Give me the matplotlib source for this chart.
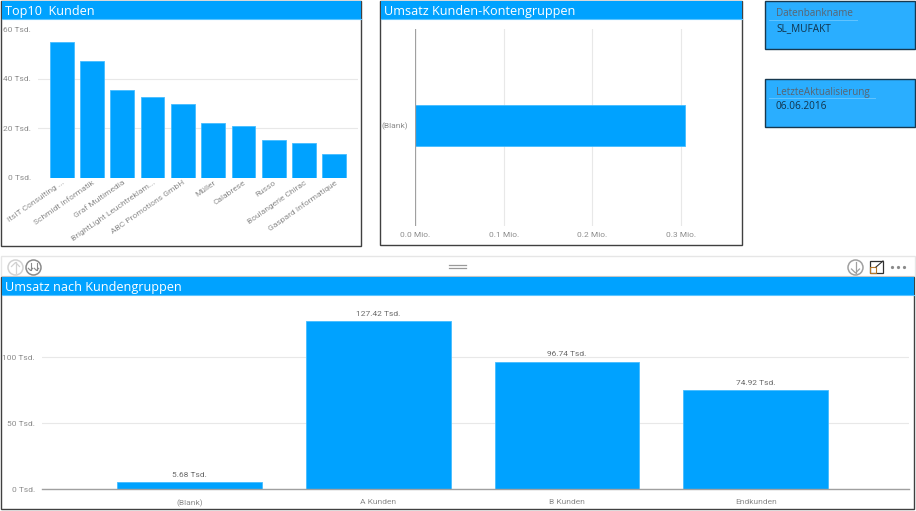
import matplotlib
matplotlib.use('Agg')
import matplotlib.pyplot as plt
from matplotlib.patches import Rectangle, Circle

W, H = 916, 511

# Top10 Kunden, values in Tsd.
top_names = ['ItsIT Consulting ...', 'Schmidt Informatik', 'Graf Multimedia',
             'BrightLight Leuchtreklam...', 'ABC Promotions GmbH', 'Müller',
             'Calabrese', 'Russo', 'Boulangerie Chirac', 'Gaspard Informatique']
top_values = [54.7, 47.3, 35.3, 32.7, 29.9, 22.0, 20.8, 15.2, 14.1, 9.7]
top_ticks = [0, 20, 40, 60]

# Umsatz Kunden-Kontengruppen, values in Mio.
konten_names = ['(Blank)']
konten_values = [0.3048]
konten_ticks = [0.0, 0.1, 0.2, 0.3]

# Umsatz nach Kundengruppen, values in Tsd.
gruppen_names = ['(Blank)', 'A Kunden', 'B Kunden', 'Endkunden']
gruppen_values = [5.68, 127.42, 96.74, 74.92]
gruppen_ticks = [0, 50, 100]

BLUE = '#00A2FF'
EDGE = '#45BCFF'
CARD = '#2AAEFF'
GRID = '#E8E8E8'
LABEL = '#8C8C8C'
TITLE_FONT = 'Open Sans'
TICK_FONT = 'Roboto'

plt.rcParams['font.family'] = TITLE_FONT
fig = plt.figure(figsize=(W / 100, H / 100), dpi=100, facecolor='white')

# background layer in pixel coordinates for panels and toolbar
bg = fig.add_axes([0, 0, 1, 1])
bg.set_xlim(0, W)
bg.set_ylim(H, 0)
bg.axis('off')


def panel(x0, y0, x1, y1, title, bar_h=18):
    bg.add_patch(Rectangle((x0, y0), x1 - x0, y1 - y0, fc='white', ec='#404040', lw=1.0))
    bg.add_patch(Rectangle((x0 + 0.5, y0 + 0.5), x1 - x0 - 1, bar_h, fc=BLUE, ec='none'))
    bg.plot([x0 + 0.5, x1 - 0.5], [y0 + bar_h + 0.5] * 2, color='#5CC5FF', lw=0.8)
    bg.text(x0 + 4, y0 + bar_h / 2 + 1.5, title, color='white', fontsize=9.1, va='center', ha='left')


def card(x0, y0, x1, y1, head, value, line_end):
    bg.add_patch(Rectangle((x0, y0), x1 - x0, y1 - y0, fc=CARD, ec='#17384F', lw=1.0))
    bg.text(x0 + 11, y0 + 13, head, color='#5A6470', fontsize=7.1, va='center')
    bg.plot([x0 + 4, line_end], [y0 + 19] * 2, color='#62C4FF', lw=0.7)
    bg.text(x0 + 11, y0 + 27.5, value, color='#12344C', fontsize=7.2, va='center')


def axes_px(x0, y0, x1, y1):
    return fig.add_axes([x0 / W, 1 - y1 / H, (x1 - x0) / W, (y1 - y0) / H], facecolor='none')


def clean(ax):
    for s in ax.spines.values():
        s.set_visible(False)
    ax.tick_params(length=0, labelsize=6, labelcolor=LABEL, labelfontfamily=TICK_FONT)
    ax.set_axisbelow(True)


def arrow(x, y0, y1, color, head=3.0, lw=0.9):
    # shaft from y0 to y1 with a chevron at y1
    d = 1 if y1 > y0 else -1
    bg.plot([x, x], [y0, y1], color=color, lw=lw)
    bg.plot([x - head, x, x + head], [y1 - d * head, y1, y1 - d * head], color=color, lw=lw)


panel(1, 1, 361, 246, 'Top10  Kunden')
panel(380, 1, 742, 245, 'Umsatz Kunden-Kontengruppen')
card(765, 1, 915, 49, 'Datenbankname', 'SL_MUFAKT', 857)
card(765, 79, 915, 127, 'LetzteAktualisierung', '06.06.2016', 875)

# toolbar above the big panel
bg.add_patch(Rectangle((1, 256.5), 914, 20, fc='white', ec='#E6E6E6', lw=1.0))
bg.add_patch(Circle((15.5, 267.5), 7.5, fc='none', ec='#D2D2D2', lw=1.1))
arrow(15.5, 273, 262.5, '#D2D2D2', head=4)
bg.add_patch(Circle((33.5, 267.5), 7.5, fc='none', ec='#8A8A8A', lw=1.1))
arrow(30.5, 263, 270.5, '#8A8A8A', head=2.2, lw=0.8)
arrow(36.5, 263, 270.5, '#8A8A8A', head=2.2, lw=0.8)
bg.plot([449, 466], [265.5, 265.5], color='#9A9A9A', lw=0.9)
bg.plot([449, 466], [268.5, 268.5], color='#9A9A9A', lw=0.9)
bg.add_patch(Circle((855.5, 267.5), 7.5, fc='none', ec='#A0A0A0', lw=1.1))
arrow(855.5, 262, 273, '#A0A0A0', head=4)
bg.add_patch(Rectangle((870, 261), 13, 12, fc='none', ec='#303030', lw=0.9))
bg.add_patch(Rectangle((870, 267), 6, 6, fc='none', ec='#B8782A', lw=0.8))
bg.plot([876, 883], [267, 261], color='#303030', lw=0.8)
bg.plot([892, 898, 904], [267, 267, 267], ls='none', marker='o', ms=1.3, color='#8A8A8A')

panel(1, 277, 914, 509, 'Umsatz nach Kundengruppen')

# Top10 Kunden
ax1 = axes_px(38, 29, 358, 178)
ax1.bar(range(len(top_values)), top_values, width=0.785, color=BLUE, edgecolor=EDGE, linewidth=0.6)
ax1.set_xlim(-0.78, 9.78)
ax1.set_ylim(0, 60)
clean(ax1)
ax1.set_yticks(top_ticks)
ax1.set_yticklabels([f'{t} Tsd.' for t in top_ticks])
ax1.grid(axis='y', color=GRID, lw=0.8)
# only the inner gridlines are drawn in this panel
ax1.yaxis.get_gridlines()[0].set_visible(False)
ax1.yaxis.get_gridlines()[-1].set_visible(False)
ax1.set_xticks(range(len(top_names)))
ax1.set_xticklabels(top_names, rotation=35, ha='right', rotation_mode='anchor')
ax1.tick_params(axis='x', pad=1)
ax1.tick_params(axis='y', pad=5)

# Umsatz Kunden-Kontengruppen
ax2 = axes_px(415.4, 29, 739, 226)
ax2.barh(range(len(konten_values)), konten_values, height=0.208, color=BLUE, edgecolor=EDGE, linewidth=0.6)
ax2.set_xlim(0, (739 - 415.4) / 884)
ax2.set_ylim(-0.51, 0.49)
clean(ax2)
ax2.set_xticks(konten_ticks)
ax2.set_xticklabels([f'{t:.1f} Mio.' for t in konten_ticks])
ax2.set_yticks(range(len(konten_names)))
ax2.set_yticklabels(konten_names)
ax2.grid(axis='x', color=GRID, lw=0.8)
ax2.axvline(0, color='#A0A0A0', lw=0.9)
ax2.tick_params(axis='x', pad=4)
ax2.tick_params(axis='y', pad=5)

# Umsatz nach Kundengruppen
ax3 = axes_px(42, 300, 909, 489.3)
bars = ax3.bar(range(len(gruppen_values)), gruppen_values, width=0.767, color=BLUE, edgecolor=EDGE, linewidth=0.6)
ax3.bar_label(bars, labels=[f'{v:.2f} Tsd.' for v in gruppen_values], padding=3, fontsize=6,
              color='#6A6A6A', family=TICK_FONT)
ax3.set_xlim(-0.783, 3.812)
ax3.set_ylim(0, 189.3 / 1.32)
clean(ax3)
ax3.set_yticks(gruppen_ticks)
ax3.set_yticklabels([f'{t} Tsd.' for t in gruppen_ticks])
ax3.set_xticks(range(len(gruppen_names)))
ax3.set_xticklabels(gruppen_names)
ax3.grid(axis='y', color=GRID, lw=0.8)
ax3.axhline(0, color='#A0A0A0', lw=1.0, clip_on=False)
ax3.tick_params(axis='x', pad=7)
ax3.tick_params(axis='y', pad=5)

fig.savefig('out.png', dpi=100)
